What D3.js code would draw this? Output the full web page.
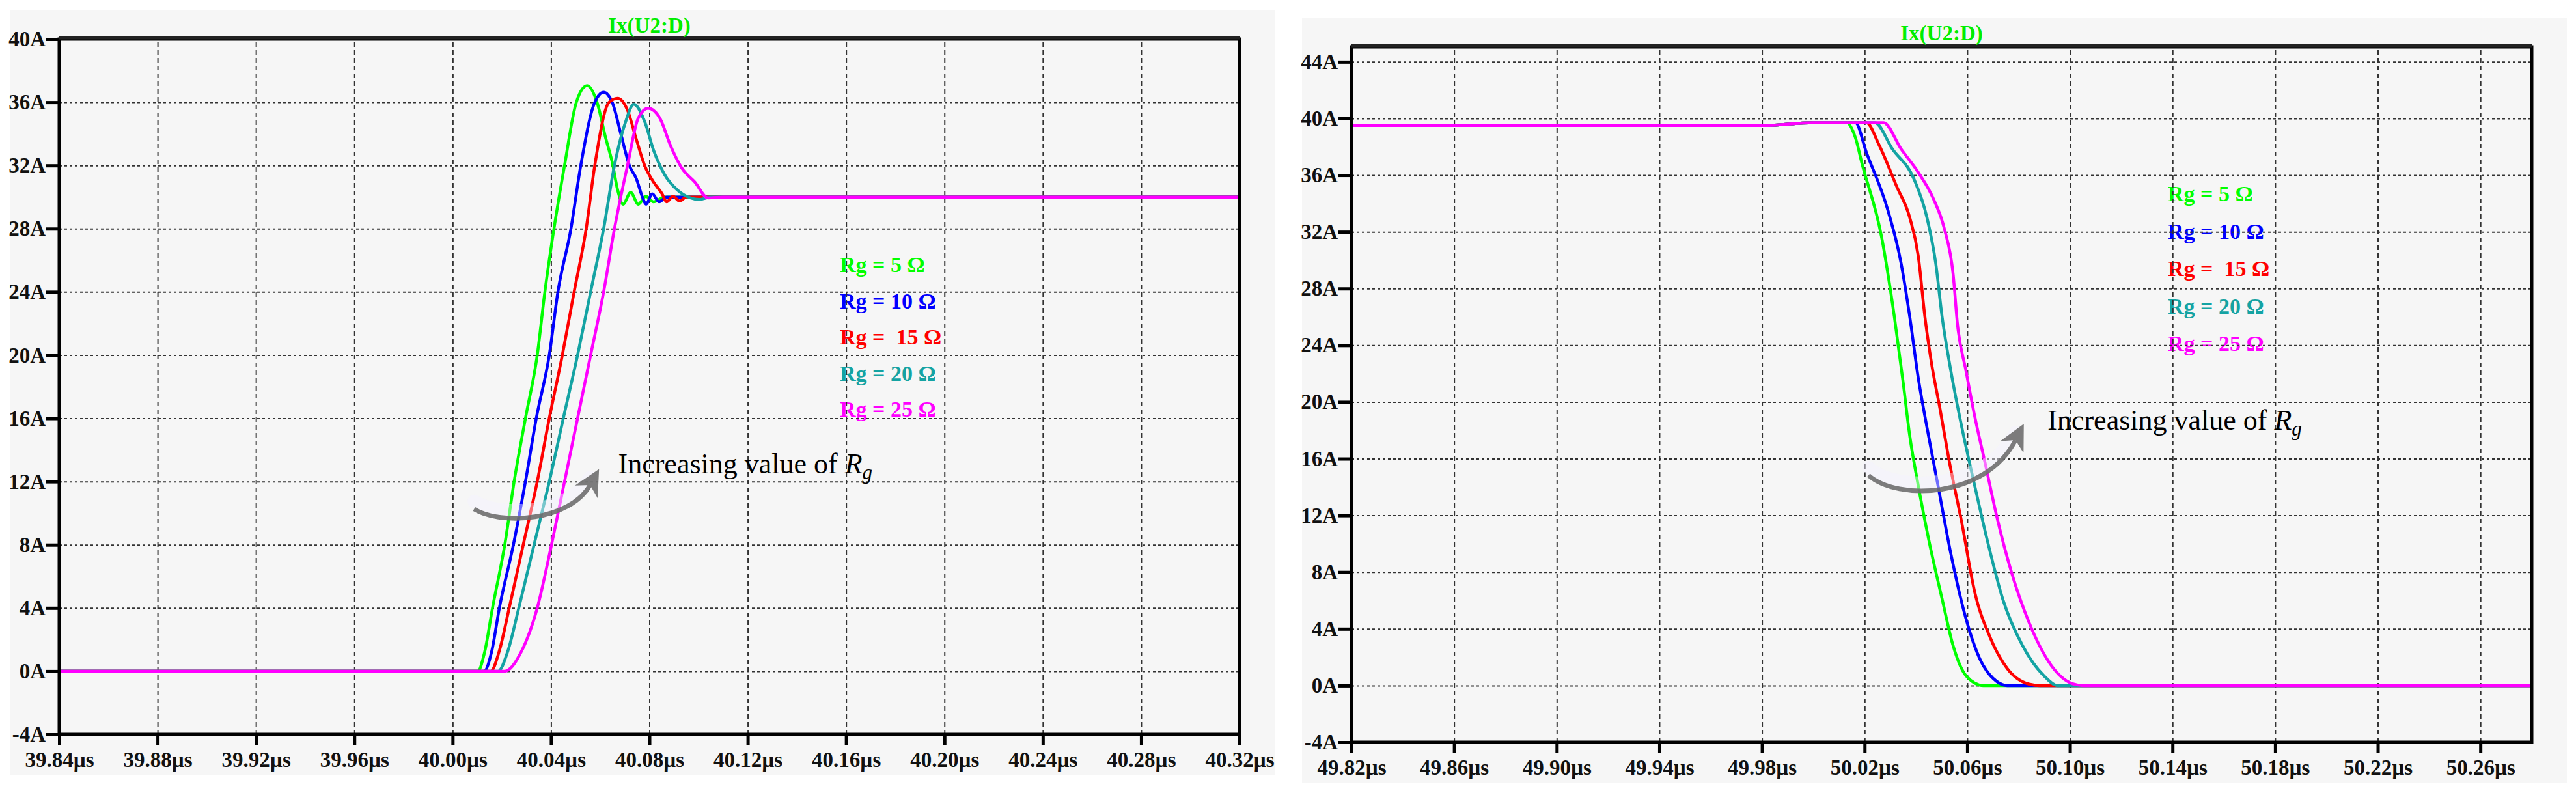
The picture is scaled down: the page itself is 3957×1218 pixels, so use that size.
<!DOCTYPE html>
<html>
<head>
<meta charset="utf-8">
<script src="https://cdnjs.cloudflare.com/ajax/libs/d3/7.8.5/d3.min.js"></script>
<style>
	body { margin: 0; background: #fff; }
	svg text { font-family: "Liberation Serif", "Times New Roman", serif; }
	.axis text { font-size: 33px; font-weight: bold; fill: #111; }
	.axis .domain { display: none; }
	.axis line { stroke: #000; stroke-width: 5; }
	.grid .domain { display: none; }
	.grid line { stroke: #333; stroke-width: 2; }
	.grid-h line { stroke-dasharray: 4, 4; }
	.grid-v line { stroke-dasharray: 7, 5; }
	.legend text { font-size: 34px; font-weight: bold; white-space: pre; }
	.note { font-size: 44px; fill: #000; }
</style>
</head>
<body>
<svg id="chart" width="3957" height="1218"></svg>
<script>
// series labels / colours (Rg = 5, 10, 15, 20, 25 ohm)
var seriesNames = ["Rg = 5 Ω", "Rg = 10 Ω", "Rg =  15 Ω", "Rg = 20 Ω", "Rg = 25 Ω"];
var seriesColors = ["#00ff00", "#0000ff", "#ff0000", "#14a3a3", "#ff00ff"];

// tick values
var onTicksX = [39.84, 39.88, 39.92, 39.96, 40.00, 40.04, 40.08, 40.12, 40.16, 40.20, 40.24, 40.28, 40.32];
var onTicksY = [-4, 0, 4, 8, 12, 16, 20, 24, 28, 32, 36, 40];
var offTicksX = [49.82, 49.86, 49.90, 49.94, 49.98, 50.02, 50.06, 50.10, 50.14, 50.18, 50.22, 50.26];
var offTicksY = [-4, 0, 4, 8, 12, 16, 20, 24, 28, 32, 36, 40, 44];

// turn-on current Ix(U2:D), time in us / current in A
var onTime = [
	[39.84, 40.0102, 40.0130, 40.0162, 40.0212, 40.0250, 40.0296, 40.0344, 40.0375, 40.0412, 40.0455, 40.0503, 40.0547, 40.0587, 40.0623, 40.0649, 40.0671, 40.0693, 40.0724, 40.0755, 40.0786, 40.0817, 40.0861, 40.32],
	[39.84, 40.0128, 40.0158, 40.0190, 40.0247, 40.0296, 40.0340, 40.0393, 40.0428, 40.0481, 40.0521, 40.0578, 40.0614, 40.0649, 40.0684, 40.0720, 40.0746, 40.0773, 40.0786, 40.0812, 40.0839, 40.0870, 40.32],
	[39.84, 40.0155, 40.0190, 40.0230, 40.0287, 40.0344, 40.0393, 40.0446, 40.0494, 40.0543, 40.0578, 40.0636, 40.0671, 40.0711, 40.0746, 40.0782, 40.0817, 40.0852, 40.0870, 40.0896, 40.0923, 40.0950, 40.32],
	[39.84, 40.0185, 40.0225, 40.0269, 40.0331, 40.0393, 40.0450, 40.0508, 40.0561, 40.0614, 40.0658, 40.0700, 40.0737, 40.0782, 40.0817, 40.0861, 40.0914, 40.0967, 40.1002, 40.1050, 40.32],
	[39.84, 40.0212, 40.0278, 40.0344, 40.0402, 40.0455, 40.0508, 40.0561, 40.0614, 40.0658, 40.0711, 40.0755, 40.0795, 40.0843, 40.0887, 40.0932, 40.0985, 40.1038, 40.1100, 40.32]
];
var onCurrent = [
	[0, 0, 1.2, 4, 8, 12, 16, 20, 24, 28, 32, 36, 37.05, 36, 33.7, 32.2, 30.45, 29.55, 30.3, 29.55, 30.05, 29.7, 30, 30],
	[0, 0, 1.2, 4, 8, 12, 16, 20, 24, 28, 32, 36, 36.63, 36, 34, 31.95, 31.2, 29.95, 29.55, 30.2, 29.7, 30, 30],
	[0, 0, 1.3, 4, 8, 12, 16, 20, 24, 28, 32, 36, 36.25, 35.5, 33.7, 31.95, 30.95, 30.2, 29.7, 30.05, 29.75, 30, 30],
	[0, 0, 1.3, 4, 8, 12, 16, 20, 24, 28, 32, 34.6, 35.87, 34.73, 32.97, 31.45, 30.45, 29.95, 29.85, 30, 30],
	[0, 0, 1.2, 4, 8, 12, 16, 20, 24, 28, 32, 35, 35.62, 34.98, 33.22, 31.83, 30.95, 29.95, 30, 30]
];

// turn-off current Ix(U2:D)
var offTime = [
	[49.82, 49.98, 50.00, 50.0130, 50.0164, 50.0190, 50.0266, 50.0316, 50.0350, 50.0376, 50.0409, 50.0452, 50.0502, 50.0545, 50.0595, 50.0663, 50.28],
	[49.82, 49.98, 50.00, 50.0164, 50.0207, 50.0291, 50.0342, 50.0376, 50.0409, 50.0443, 50.0486, 50.0536, 50.0587, 50.0646, 50.0714, 50.0756, 50.28],
	[49.82, 49.98, 50.00, 50.0207, 50.0257, 50.0325, 50.0376, 50.0409, 50.0435, 50.0460, 50.0494, 50.0528, 50.0579, 50.0629, 50.0689, 50.0756, 50.0841, 50.0883, 50.28],
	[49.82, 49.98, 50.00, 50.0240, 50.0308, 50.0393, 50.0443, 50.0477, 50.0502, 50.0536, 50.0579, 50.0629, 50.0680, 50.0739, 50.0815, 50.0900, 50.0951, 50.28],
	[49.82, 49.98, 50.00, 50.0274, 50.0342, 50.0409, 50.0469, 50.0511, 50.0545, 50.0562, 50.0595, 50.0629, 50.0672, 50.0714, 50.0773, 50.0841, 50.0925, 50.1010, 50.1052, 50.28]
];
var offCurrent = [
	[39.5, 39.5, 39.7, 39.7, 38.65, 36.8, 31.65, 26.0, 21.4, 17.6, 14.1, 10.1, 6.1, 2.8, 0.7, 0, 0],
	[39.5, 39.5, 39.7, 39.7, 37.6, 33.5, 29.8, 26.0, 21.7, 18.2, 14.1, 9.3, 5.25, 2.0, 0.3, 0, 0],
	[39.5, 39.5, 39.7, 39.7, 38.1, 35.2, 33.0, 30.3, 26.0, 22.8, 19.5, 16.0, 11.45, 6.6, 3.4, 1.2, 0.1, 0, 0],
	[39.5, 39.5, 39.7, 39.7, 37.85, 35.7, 33.0, 29.8, 26.0, 22.2, 18.2, 14.1, 10.1, 6.06, 2.83, 0.67, 0, 0],
	[39.5, 39.5, 39.7, 39.7, 37.85, 36.2, 34.3, 32.2, 29.0, 25.45, 22.2, 19.0, 15.5, 12.0, 7.95, 4.44, 1.48, 0.13, 0, 0]
];

// curved "increasing Rg" arrows, in data units (start, ctrl1, ctrl2, end)
var onArrow = [[40.0087, 10.26], [40.0199, 9.19], [40.0477, 9.51], [40.0559, 11.78]];
var offArrow = [[50.0215, 14.83], [50.0329, 13.0], [50.0672, 13.21], [50.0788, 17.31]];
var onNoteAt = [40.0673, 12.52];
var offNoteAt = [50.0913, 18.05];

var plotW = 1813, plotH = 1068;
var svg = d3.select("#chart");

var defs = svg.append("defs");
defs.append("marker")
	.attr("id", "stealth")
	.attr("viewBox", "0 0 40 40")
	.attr("refX", 12)
	.attr("refY", 20)
	.attr("markerUnits", "userSpaceOnUse")
	.attr("markerWidth", 40)
	.attr("markerHeight", 40)
	.attr("orient", "auto")
	.append("path")
	.attr("d", "M40,20 L0,0 L12,20 L0,40 Z")
	.attr("fill", "#6f6f6f");

function drawPanel(cfg) {
	// light panel background
	svg.append("rect")
		.attr("x", cfg.bg[0]).attr("y", cfg.bg[1])
		.attr("width", cfg.bg[2]).attr("height", cfg.bg[3])
		.attr("fill", "#f6f6f6");

	var g = svg.append("g")
		.attr("transform", "translate(" + cfg.left + "," + cfg.top + ")");

	var xScale = d3.scaleLinear().domain(cfg.xDomain).range([0, plotW]);
	var yScale = d3.scaleLinear().domain(cfg.yDomain).range([plotH, 0]);

	// legend text (grid is drawn over it, as in the source)
	g.append("g")
		.attr("class", "legend")
		.selectAll("text")
		.data(seriesNames)
		.join("text")
		.attr("x", cfg.legendX)
		.attr("y", function(d, i) { return cfg.legendY + i * cfg.legendStep; })
		.attr("fill", function(d, i) { return seriesColors[i]; })
		.text(function(d) { return d; });

	// Gridline
	g.append("g")
		.attr("class", "grid grid-h")
		.call(d3.axisLeft(yScale)
			.tickValues(cfg.yTicks.filter(function(v) { return v > cfg.yDomain[0] && v < cfg.yDomain[1]; }))
			.tickSize(-plotW)
			.tickFormat(""));

	g.append("g")
		.attr("class", "grid grid-v")
		.attr("transform", "translate(0," + plotH + ")")
		.call(d3.axisBottom(xScale)
			.tickValues(cfg.xTicks.filter(function(v) { return v > cfg.xDomain[0] && v < cfg.xDomain[1]; }))
			.tickSize(-plotH)
			.tickFormat(""));

	// waveforms
	var line = d3.line()
		.x(function(d) { return xScale(d[0]); })
		.y(function(d) { return yScale(d[1]); })
		.curve(d3.curveMonotoneX);

	var series = cfg.times.map(function(t, i) { return d3.zip(t, cfg.currents[i]); });

	g.append("g")
		.selectAll("path")
		.data(series)
		.join("path")
		.attr("d", line)
		.attr("fill", "none")
		.attr("stroke", function(d, i) { return seriesColors[i]; })
		.attr("stroke-width", 4.5)
		.attr("stroke-linejoin", "round");

	// arrow annotation
	var a = cfg.arrow.map(function(p) { return [xScale(p[0]), yScale(p[1])]; });
	var p = d3.path();
	p.moveTo(a[0][0], a[0][1]);
	p.bezierCurveTo(a[1][0], a[1][1], a[2][0], a[2][1], a[3][0], a[3][1]);

	g.append("path")
		.attr("d", p.toString())
		.attr("transform", "translate(0,-12)")
		.attr("fill", "none")
		.attr("stroke", "#f4f2ff")
		.attr("stroke-width", 20)
		.attr("stroke-linecap", "round")
		.attr("opacity", 0.45);

	g.append("path")
		.attr("d", p.toString())
		.attr("fill", "none")
		.attr("stroke", "#6f6f6f")
		.attr("stroke-width", 7)
		.attr("opacity", 0.9)
		.attr("marker-end", "url(#stealth)");

	var note = g.append("text")
		.attr("class", "note")
		.attr("x", xScale(cfg.noteAt[0]))
		.attr("y", yScale(cfg.noteAt[1]));
	note.append("tspan").text("Increasing value of ");
	note.append("tspan").attr("font-style", "italic").text("R");
	note.append("tspan").attr("font-style", "italic").attr("font-size", 31).attr("dy", 9).text("g");

	// Axis
	g.append("g")
		.attr("class", "axis")
		.attr("transform", "translate(0," + plotH + ")")
		.call(d3.axisBottom(xScale)
			.tickValues(cfg.xTicks)
			.tickSize(17)
			.tickPadding(10)
			.tickFormat(function(d) { return d3.format(".2f")(d) + "µs"; }));

	g.append("g")
		.attr("class", "axis")
		.call(d3.axisLeft(yScale)
			.tickValues(cfg.yTicks)
			.tickSize(20)
			.tickPadding(1)
			.tickFormat(function(d) { return d + "A"; }));

	// frame
	g.append("rect")
		.attr("width", plotW)
		.attr("height", plotH)
		.attr("fill", "none")
		.attr("stroke", "#000")
		.attr("stroke-width", 5);
	g.append("line")
		.attr("x1", 0).attr("x2", plotW)
		.attr("y1", -2).attr("y2", -2)
		.attr("stroke", "#222")
		.attr("stroke-width", 5);

	// trace name
	g.append("text")
		.attr("x", plotW / 2)
		.attr("y", -10)
		.attr("text-anchor", "middle")
		.attr("font-size", 33)
		.attr("font-weight", "bold")
		.attr("fill", "#00ee00")
		.text("Ix(U2:D)");
}

drawPanel({
	bg: [15, 15, 1943, 1175],
	left: 91, top: 60,
	xDomain: [39.84, 40.32], yDomain: [-4, 40],
	xTicks: onTicksX, yTicks: onTicksY,
	times: onTime, currents: onCurrent,
	legendX: 1199, legendY: 358, legendStep: 55.5,
	arrow: onArrow, noteAt: onNoteAt
});

drawPanel({
	bg: [2000, 28, 1943, 1174],
	left: 2076, top: 72,
	xDomain: [49.82, 50.28], yDomain: [-4, 45.05],
	xTicks: offTicksX, yTicks: offTicksY,
	times: offTime, currents: offCurrent,
	legendX: 1254, legendY: 237, legendStep: 57.5,
	arrow: offArrow, noteAt: offNoteAt
});
</script>
</body>
</html>
